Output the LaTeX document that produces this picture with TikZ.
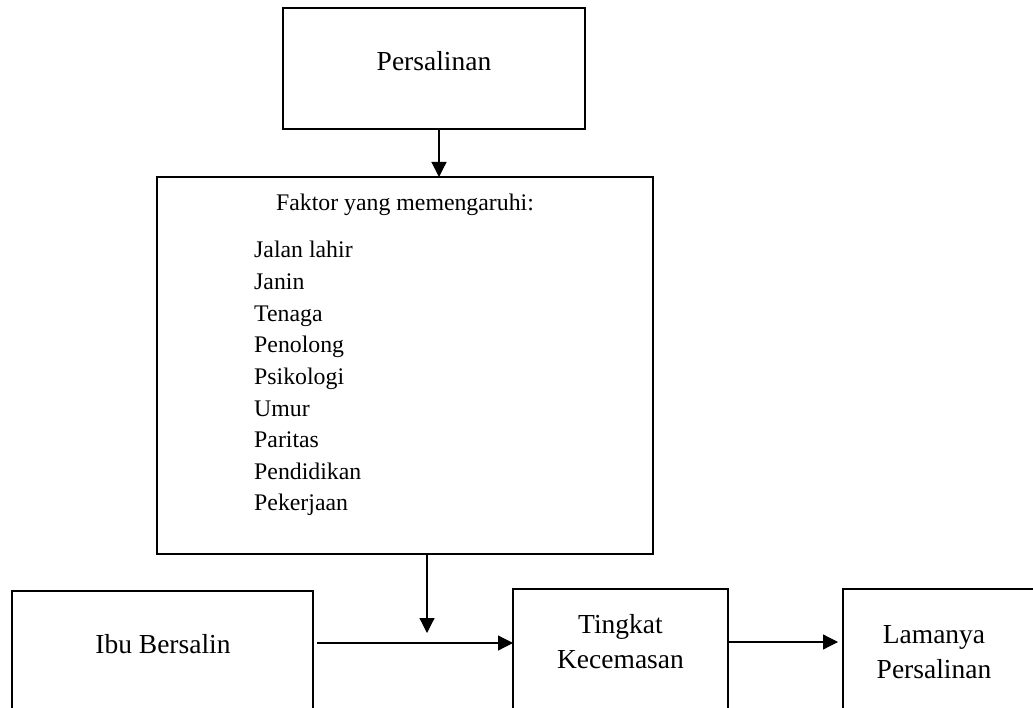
\documentclass[tikz,border=0pt]{standalone}
\usepackage{fontspec}
\setmainfont{Liberation Serif}
\usetikzlibrary{arrows.meta,calc}
\begin{document}
\begin{tikzpicture}[x=1pt,y=-1pt,
  box/.style={draw,line width=1.8pt,inner sep=0pt,outer sep=0pt,anchor=north west},
  arr/.style={line width=1.2pt,-{Triangle[length=15pt,width=15pt]}},
  big/.style={font=\fontsize{27.5}{35}\selectfont,inner sep=0pt,anchor=base},
  small/.style={font=\fontsize{23.8}{31.6}\selectfont,inner sep=0pt}]
\useasboundingbox (0,0) rectangle (1033,708);
\clip (0,0) rectangle (1033,708);
% boxes
\node[box,minimum width=302pt,minimum height=121pt] (top) at (283,8) {};
\node[box,minimum width=496pt,minimum height=377pt] (fak) at (157,177) {};
\node[box,minimum width=301pt,minimum height=200pt] (ibu) at (12,591) {};
\node[box,minimum width=215pt,minimum height=200pt] (ting) at (513,589) {};
\node[box,minimum width=230pt,minimum height=200pt] (lama) at (843,589) {};
% texts
\node[big] (tpers) at (434,71) {Persalinan};
\node[small,anchor=base] (tfak) at (405,211) {Faktor yang memengaruhi:};
\foreach \t [count=\i from 0] in {Jalan lahir,Janin,Tenaga,Penolong,Psikologi,Umur,Paritas,Pendidikan,Pekerjaan}
  \node[small,anchor=base west] (item\i) at (254,258+31.6*\i) {\t};
\node[big] (tibu) at (163,653) {Ibu Bersalin};
\node[big] (tting1) at (620.5,633) {Tingkat};
\node[big] (tting2) at (620.5,668) {Kecemasan};
\node[big] (tlama1) at (934,643) {Lamanya};
\node[big] (tlama2) at (934,678) {Persalinan};
% connectors
\coordinate (a1) at (439,129);
\coordinate (a2) at (439,177);
\draw[arr] (top.south -| a1) -- (fak.north -| a2);
\coordinate (b1) at (427,554);
\coordinate (b2) at (427,633);
\draw[arr] (fak.south -| b1) -- (b2);
\coordinate (c1) at (317,643);
\draw[arr] (c1) -- (c1 -| ting.west);
\coordinate (d1) at (728,642);
\coordinate (d2) at (838,642);
\draw[arr] (d1 -| ting.east) -- (d2);
\end{tikzpicture}
\end{document}
